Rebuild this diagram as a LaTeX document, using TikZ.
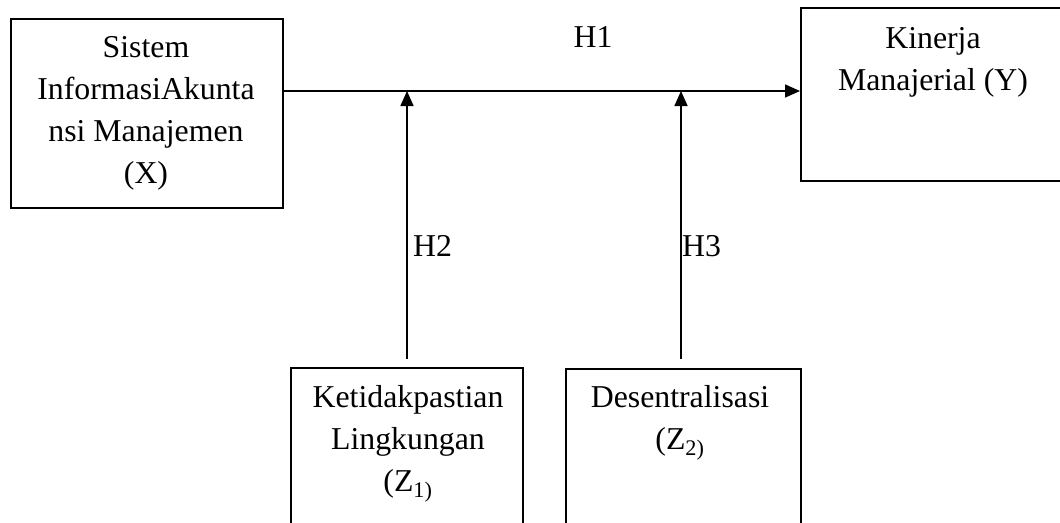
\documentclass[tikz,border=0pt]{standalone}
\usepackage{fontspec}
\setmainfont{Liberation Serif}
\usetikzlibrary{arrows.meta}
\begin{document}
\begin{tikzpicture}[x=1pt,y=-1pt,
  box/.style={draw,line width=1.6pt,inner sep=0pt},
  lbl/.style={inner sep=0pt,align=center,font=\fontsize{31.8}{42}\selectfont},
  conn/.style={line width=1.6pt,-{Triangle[length=15pt,width=13pt]}}]
\useasboundingbox (0,0) rectangle (1060,522);
\clip (0,0) rectangle (1060,522);
% boxes
\node[box,anchor=north west,minimum width=272pt,minimum height=189pt] (X) at (10,18) {};
\node[box,anchor=north west,minimum width=280pt,minimum height=173pt] (Y) at (800,7) {};
\node[box,anchor=north west,minimum width=232pt,minimum height=200pt] (Z1) at (290,367) {};
\node[box,anchor=north west,minimum width=235pt,minimum height=200pt] (Z2) at (565,368) {};
% texts (anchor=base is the baseline of the last line)
\node[lbl,anchor=base] (tX) at (146,183) {Sistem\\InformasiAkunta\\nsi Manajemen\\(X)};
\node[lbl,anchor=base] (tY) at (933,90) {Kinerja\\Manajerial (Y)};
\node[lbl,anchor=base] (tZ1) at (408,491) {Ketidakpastian\\Lingkungan\\(Z\textsubscript{1)}};
\node[lbl,anchor=base] (tZ2) at (680,449) {Desentralisasi\\(Z\textsubscript{2)}};
% connectors
\coordinate (m1) at (407,91);
\coordinate (m2) at (681,91);
\coordinate (s1) at (407,359);
\coordinate (s2) at (681,359);
\draw[conn] (X.east |- m1) -- (Y.west |- m1);
\draw[conn] (s1) -- (m1);
\draw[conn] (s2) -- (m2);
% hypothesis labels
\node[lbl,anchor=base] (H1) at (593,47) {H1};
\node[lbl,anchor=base west] (H2) at (413,256) {H2};
\node[lbl,anchor=base west] (H3) at (682,256) {H3};
\end{tikzpicture}
\end{document}
